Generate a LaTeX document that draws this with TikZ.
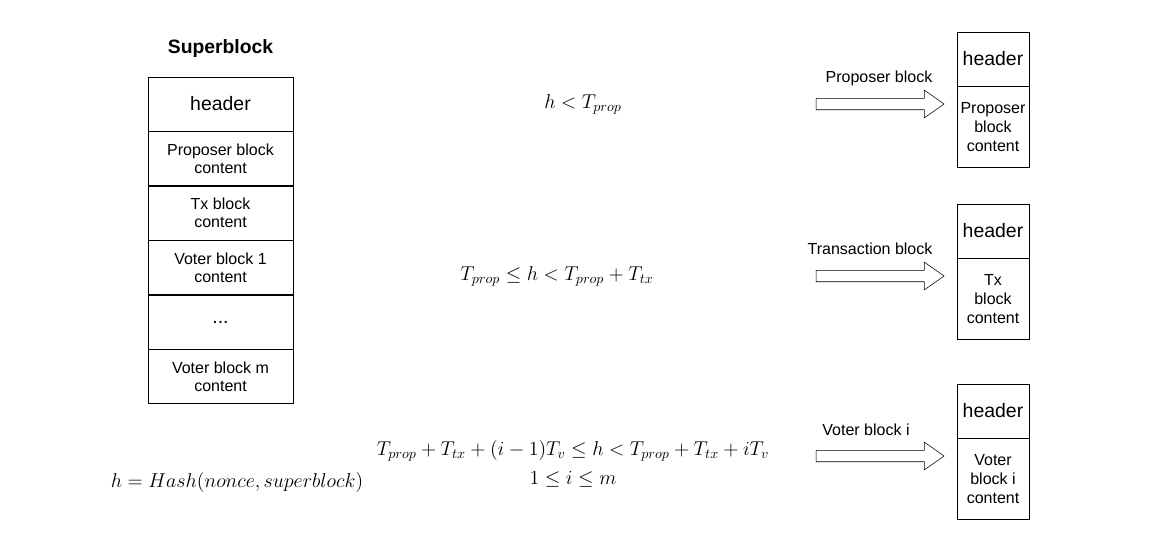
\RequirePackage{fix-cm}
\documentclass[tikz,border=0pt]{standalone}
\usepackage[no-math]{fontspec}
\usepackage{amsmath}
\usepackage{tikz}
\usetikzlibrary{positioning,shapes.arrows}
\newfontfamily\arial{Liberation Sans}

\tikzset{
	cell/.style={draw, rectangle, align=center, inner sep=0pt, minimum width=108.75pt, minimum height=40.5pt, font=\arial\fontsize{12}{13.5}\selectfont},
	headfont/.style={font=\arial\fontsize{14.6}{17}\selectfont},
	blockhead/.style={draw, rectangle, align=center, inner sep=0pt, minimum width=54pt, minimum height=40.5pt, headfont},
	blockbody/.style={draw, rectangle, align=center, inner sep=0pt, minimum width=54pt, minimum height=60.75pt, font=\arial\fontsize{12}{14.25}\selectfont},
	fatarrow/.style={draw, single arrow, inner xsep=0pt, inner ysep=4.1pt, minimum width=20.25pt, minimum height=96pt, single arrow head extend=6.1pt, single arrow tip angle=70},
	arrowlabel/.style={font=\arial\fontsize{12}{14}\selectfont},
	formula/.style={font=\fontsize{15}{22}\selectfont, align=center}
}

\begin{document}
\begin{tikzpicture}[x=0.75pt,y=-0.75pt]
	\useasboundingbox (0,0) rectangle (1153,546);
	% superblock
	\node[font=\arial\bfseries\fontsize{14.5}{17}\selectfont] (title) at (220.5,49) {Superblock};
	\node[cell, headfont] (sbhead) at (220.5,104) {header};
	\node[cell, below=0pt of sbhead] (sbprop) {Proposer block\\content};
	\node[cell, below=0pt of sbprop] (sbtx) {Tx block\\content};
	\node[cell, below=0pt of sbtx] (sbvote) {Voter block 1\\content};
	\node[cell, headfont, below=0pt of sbvote] (sbdots) {...};
	\node[cell, below=0pt of sbdots] (sbvotem) {Voter block m\\content};
	\node[formula] (hash) at (237,482) {$h = Hash(nonce, superblock)$};

	% conditions
	\node[formula] (condprop) at (583,104) {$h < T_{prop}$};
	\node[formula] (condtx) at (557,276) {$T_{prop} \leq h < T_{prop} + T_{tx}$};
	\node[formula] (condvote) at (573,464) {$T_{prop} + T_{tx} + (i-1)T_v \leq h < T_{prop} + T_{tx} + iT_v$\\$1 \leq i \leq m$};

	% arrows
	\node[fatarrow] (arrprop) at (876,104) {};
	\node[arrowlabel] (labprop) at (879,78) {Proposer block};
	\node[fatarrow] (arrtx) at (876,276) {};
	\node[arrowlabel] (labtx) at (870,249) {Transaction block};
	\node[fatarrow] (arrvote) at (876,456) {};
	\node[arrowlabel] (labvote) at (866,430) {Voter block i};

	% resulting blocks
	\node[blockhead] (prophead) at (993,59) {header};
	\node[blockbody, below=0pt of prophead] (propbody) {Proposer\\block\\content};
	\node[blockhead] (txhead) at (993,231) {header};
	\node[blockbody, below=0pt of txhead] (txbody) {Tx\\block\\content};
	\node[blockhead] (votehead) at (993,411) {header};
	\node[blockbody, below=0pt of votehead] (votebody) {Voter\\block i\\content};
\end{tikzpicture}
\end{document}
